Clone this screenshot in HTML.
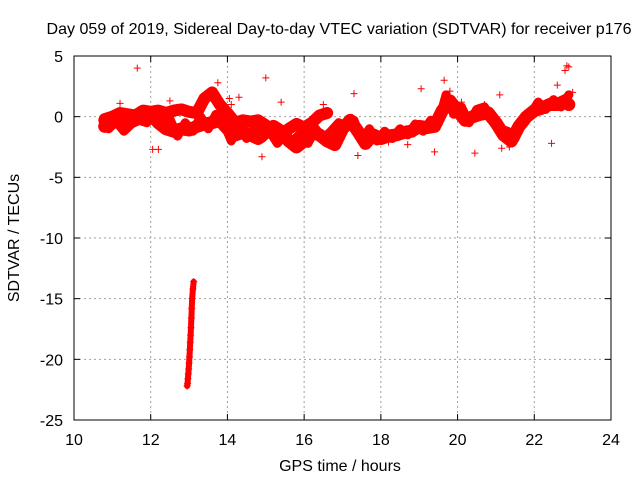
<!DOCTYPE html>
<html><head><meta charset="utf-8"><style>
body{margin:0;background:#fff}
svg{display:block;font-family:"Liberation Sans",sans-serif;font-size:16px}
</style></head><body>
<svg id="chart" width="640" height="480" viewBox="0 0 640 480">
<text x="339" y="34" text-anchor="middle" textLength="585" lengthAdjust="spacingAndGlyphs">Day 059 of 2019, Sidereal Day-to-day VTEC variation (SDTVAR) for receiver p176</text>
<g id="grid"></g>
<g id="marks"></g>
<rect x="74" y="56" width="537" height="364" fill="none" stroke="#000"/>
<g id="axes"></g>
<text x="340" y="471" text-anchor="middle">GPS time / hours</text>
<text transform="translate(19,238) rotate(-90)" text-anchor="middle">SDTVAR / TECUs</text>
</svg>
<script>
const xTicks=[10,12,14,16,18,20,22,24];
const yTicks=[5,0,-5,-10,-15,-20,-25];
const lowT=[10.8,11.0,11.2,11.4,11.6,11.8,12.0,12.2,12.4,12.6,12.8,13.0,13.2,13.4,13.6,13.8,14.0,14.2,14.4,14.6,14.8,15.0,15.2,15.4,15.6,15.8,16.0,16.2,16.4,16.6,16.8,17.0,17.2,17.4,17.6,17.8,18.0,18.2,18.4,18.6,18.8,19.0,19.2,19.4,19.6,19.8,20.0,20.2,20.4,20.6,20.8,21.0,21.2,21.4,21.6,21.8,22.0,22.2,22.4,22.6,22.8,22.9];
const lowV=[-0.8,-0.5,-0.3,-0.5,-0.2,0,0.2,-0.5,-1.0,-1.2,-1.0,-1.1,-0.8,-0.6,-0.5,-0.3,-1.0,-1.5,-1.3,-1.5,-1.8,-1.3,-0.8,-1.2,-2.0,-2.5,-2.0,-1.3,-1.5,-2.0,-2.3,-1.0,-0.3,-1.2,-2.2,-1.5,-1.8,-1.6,-1.5,-1.3,-1.2,-0.8,-0.9,-0.8,0.5,1.3,0.5,-0.3,0.0,0.2,0.3,-0.5,-1.5,-2.0,-0.8,0.0,0.5,0.7,1.0,1.0,1.3,1.0];
const midT=[10.75,10.9,11.1,11.3,11.5,11.7,11.9,12.1,12.3,12.5,12.7,12.9,13.1,13.3,13.5,13.7,13.9,14.1,14.3,14.5,14.7,14.9,15.1,15.3,15.5,15.7,15.9,16.1,16.3,16.5,16.7,16.9,17.1,17.3,17.5,17.7,17.9,18.1,18.3,18.5,18.7,18.9,19.1,19.3,19.5,19.7,19.9,20.1,20.3,20.5,20.7,20.9,21.1,21.3,21.5,21.7,21.9,22.1,22.3,22.5,22.7,22.9];
const midV=[-0.3,-1.0,-0.4,-1.2,-0.6,-0.3,-0.5,0.3,-0.6,-0.2,-1.6,-0.5,-1.2,0.0,-1.0,0.2,-0.5,-2.0,-0.8,-1.8,-1.0,-1.8,-1.2,-2.2,-1.5,-2.0,-1.4,-2.2,-1.0,-1.8,-1.2,-0.5,-0.8,-0.3,-2.0,-1.0,-2.0,-1.2,-1.8,-1.0,-1.5,-0.6,-1.2,-0.3,-0.5,1.8,0.2,0.8,-0.5,0.6,0.8,-0.2,-1.0,-1.2,-1.8,-0.3,0.2,1.2,0.6,1.4,0.8,1.8];
const upT=[10.8,11.0,11.2,11.4,11.6,11.8,12.0,12.2,12.4,12.6,12.8,13.0,13.2,13.4,13.6,13.8,14.0,14.2,14.4,14.6,14.8,15.0,15.2,15.4,15.6,15.8,16.0,16.2,16.4,16.6];
const upV=[-0.2,0.0,0.3,0.2,0.1,0.5,0.4,0.5,0.3,0.5,0.6,0.4,0.3,1.5,2.0,1.0,0.3,-0.5,-0.3,-0.4,-0.3,-0.7,-1.2,-1.5,-1.0,-0.6,-0.9,-0.5,0.1,0.3];
const spikeT=[13.12,13.1,13.08,13.07,13.06,13.05,13.04,13.03,13.02,13.01,13.0,12.99,12.98,12.97,12.96,12.95];
const spikeV=[-13.6,-14.2,-15.0,-15.8,-16.6,-17.4,-18.0,-18.6,-19.2,-19.8,-20.3,-20.8,-21.2,-21.6,-22.0,-22.2];
const isoT=[11.65,11.2,12.05,12.5,13.75,14.05,14.1,14.9,15.0,15.4,16.5,17.3,17.4,18.2,18.7,19.05,19.4,19.65,19.8,20.1,20.45,20.7,21.1,21.15,21.35,22.45,22.6,22.8,22.85,22.9,23.0,12.2,14.3];
const isoV=[4.0,1.1,-2.7,1.3,2.8,1.5,1.0,-3.3,3.2,1.2,1.0,1.9,-3.2,-2.1,-2.3,2.3,-2.9,3.0,2.1,1.2,-3.0,1.0,1.8,-2.6,-2.5,-2.2,2.6,3.8,4.2,4.1,2.0,-2.7,1.6];
const X0=74,X1=611,Y0=56,Y1=420;
const sx=v=>X0+(v-10)/14*(X1-X0);
const sy=v=>Y0+(5-v)/30*(Y1-Y0);
const NS="http://www.w3.org/2000/svg";
const grid=document.getElementById('grid'),axes=document.getElementById('axes'),marks=document.getElementById('marks');
function mk(tag,attrs,parent){const e=document.createElementNS(NS,tag);for(const k in attrs)e.setAttribute(k,attrs[k]);parent.appendChild(e);return e;}
xTicks.forEach(t=>{
  const x=sx(t);
  if(t>10&&t<24){const g=mk('line',{x1:x,x2:x,y1:Y0,y2:Y1,stroke:'#a0a0a0','stroke-dasharray':'2,3'},grid);
  
  }
  mk('line',{x1:x,x2:x,y1:Y1,y2:Y1-6,stroke:'#000'},axes);
  mk('line',{x1:x,x2:x,y1:Y0,y2:Y0+6,stroke:'#000'},axes);
  const l=mk('text',{x:x,y:Y1+25,'text-anchor':'middle'},axes);l.textContent=t;
  
  
});
yTicks.forEach(t=>{
  const y=sy(t);
  if(t<5&&t>-25){const g=mk('line',{x1:X0,x2:X1,y1:y,y2:y,stroke:'#a0a0a0','stroke-dasharray':'2,3'},grid);
  
  }
  mk('line',{x1:X0,x2:X0+6,y1:y,y2:y,stroke:'#000'},axes);
  mk('line',{x1:X1,x2:X1-6,y1:y,y2:y,stroke:'#000'},axes);
  const l=mk('text',{x:X0-11,y:y+6,'text-anchor':'end'},axes);l.textContent=t;
  
  
});
function band(T,V,name,w){
  const p=mk('polyline',{points:T.map((t,i)=>sx(t)+','+sy(V[i])).join(' '),fill:'none',stroke:'#f00','stroke-width':w,'stroke-linejoin':'round','stroke-linecap':'round'},marks);
  
  
}
function plus(T,V,name){
  T.forEach((t,i)=>{const x=sx(t),y=sy(V[i]);
    const p=mk('path',{d:`M${x-3.5},${y}h7M${x},${y-3.5}v7`,stroke:'#f00','stroke-width':1},marks);
    
    });
}
band(lowT,lowV,'lower-band',13);
band(midT,midV,'middle-band',9);
band(upT,upV,'upper-band',12);
band(spikeT,spikeV,'spike-band',6);
plus(lowT,lowV,'point');plus(midT,midV,'point');plus(upT,upV,'point');plus(spikeT,spikeV,'spike-point');plus(isoT,isoV,'isolated-point');
</script>
</body></html>
